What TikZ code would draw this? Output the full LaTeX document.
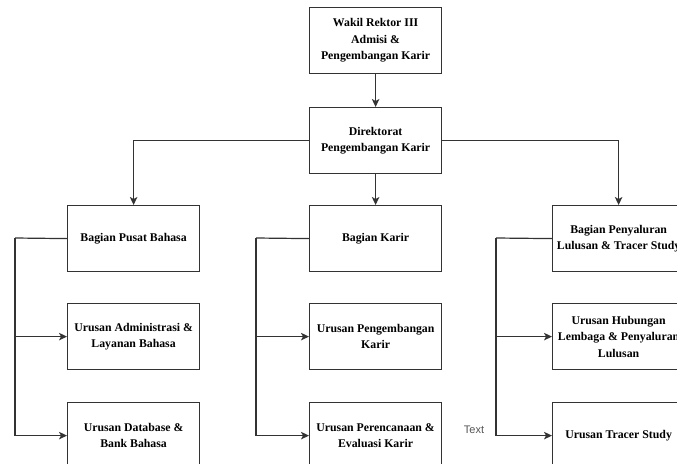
\documentclass[tikz,border=0pt]{standalone}
\usepackage{fontspec}
\setmainfont{Liberation Serif}
\newfontfamily\labelfont{Liberation Sans}
\usetikzlibrary{arrows.meta}
\definecolor{linec}{HTML}{333333}
\definecolor{textgray}{HTML}{555555}
\tikzset{
  box/.style={draw=linec, line width=1.2pt, minimum width=132pt, minimum height=66pt,
    inner sep=0pt, align=center,
    font=\bfseries\fontsize{11.8pt}{16.5pt}\selectfont, anchor=north west},
  conn/.style={draw=linec, line width=1.2pt},
  arr/.style={conn, -{Stealth[length=8pt,width=7.5pt,inset=2pt]}},
}
\begin{document}
\begin{tikzpicture}[x=1pt,y=-1pt]
\useasboundingbox (0,0) rectangle (677,463);
\clip (0,0) rectangle (677,463);
\fill[white] (0,0) rectangle (677,463);

\node[box] (wr) at (309,7) {Wakil Rektor III\\Admisi \&\\Pengembangan Karir};
\node[box] (dir) at (309,107) {Direktorat\\Pengembangan Karir};

\node[box] (a1) at (67,205) {Bagian Pusat Bahasa};
\node[box] (a2) at (67,303) {Urusan Administrasi \&\\Layanan Bahasa};
\node[box] (a3) at (67,402) {Urusan Database \&\\Bank Bahasa};

\node[box] (b1) at (309,205) {Bagian Karir};
\node[box] (b2) at (309,303) {Urusan Pengembangan\\Karir};
\node[box] (b3) at (309,402) {Urusan Perencanaan \&\\Evaluasi Karir};

\node[box] (c1) at (552,205) {Bagian Penyaluran\\Lulusan \& Tracer Study};
\node[box] (c2) at (552,303) {Urusan Hubungan\\Lembaga \& Penyaluran\\Lulusan};
\node[box] (c3) at (552,402) {Urusan Tracer Study};

\node[font=\labelfont\fontsize{11pt}{13pt}\selectfont, text=textgray, inner sep=0pt] (txt) at (474,430) {Text};

\draw[arr] (wr.south) -- (dir.north);
\draw[arr] (dir.west) -| (a1.north);
\draw[arr] (dir.south) -- (b1.north);
\draw[arr] (dir.east) -| (c1.north);

\coordinate (ja) at (15,238);
\coordinate (jb) at (256,238);
\coordinate (jc) at (496,238);

\draw[conn] (a1.west) -- (ja);
\draw[arr] (ja) |- (a2.west);
\draw[arr] (ja) |- (a3.west);

\draw[conn] (b1.west) -- (jb);
\draw[arr] (jb) |- (b2.west);
\draw[arr] (jb) |- (b3.west);

\draw[conn] (c1.west) -- (jc);
\draw[arr] (jc) |- (c2.west);
\draw[arr] (jc) |- (c3.west);
\end{tikzpicture}
\end{document}
